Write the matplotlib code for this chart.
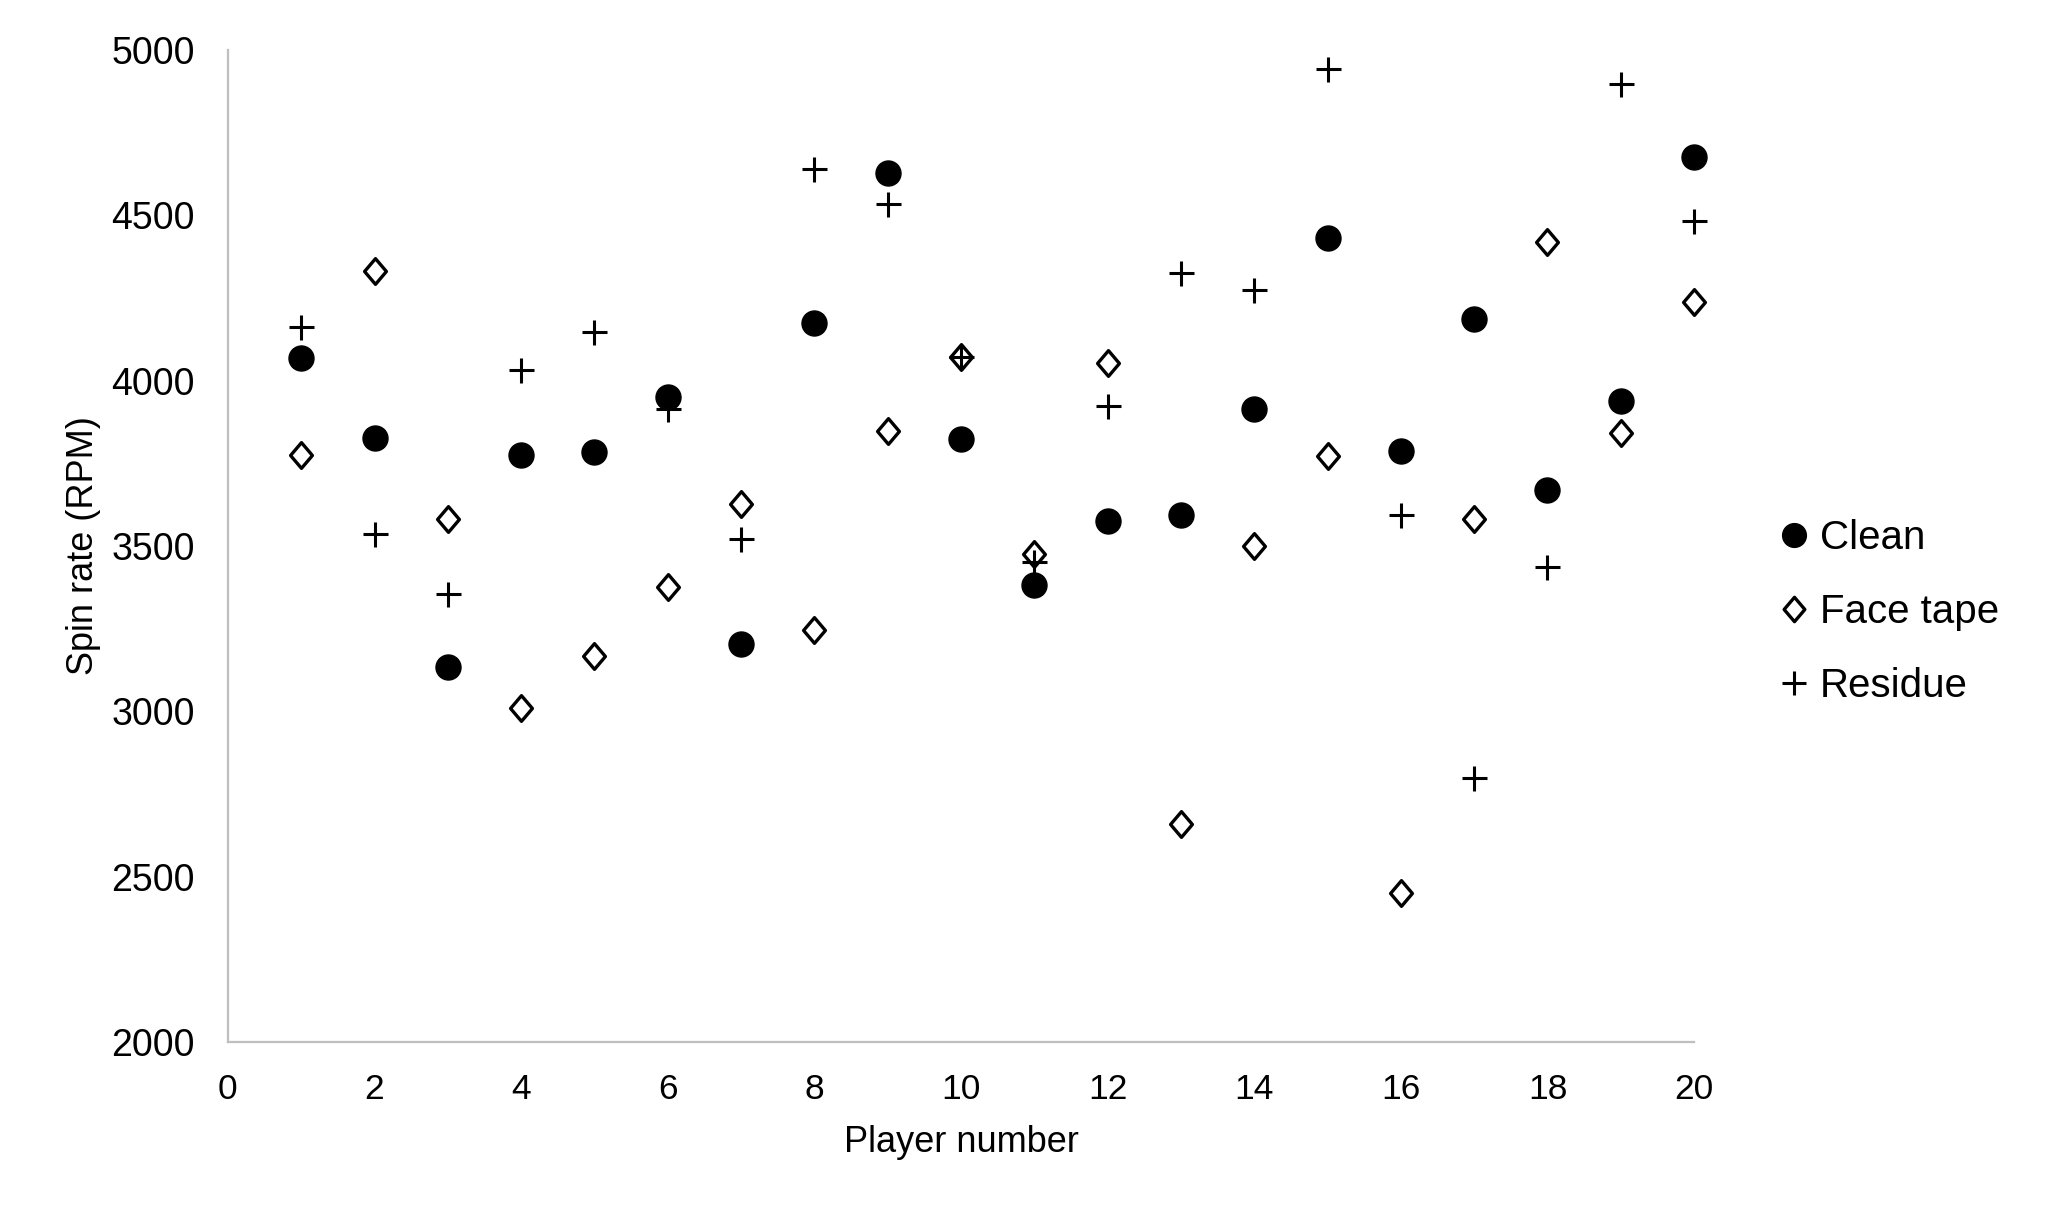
import matplotlib
matplotlib.use("Agg")
import matplotlib.pyplot as plt
from matplotlib.path import Path

plt.rcParams['font.family'] = ['Liberation Sans', 'DejaVu Sans']

players = list(range(1, 21))
clean = [4068, 3828, 3133, 3776, 3784, 3950, 3204, 4175, 4629, 3824,
         3381, 3575, 3595, 3914, 4431, 3788, 4187, 3670, 3938, 4676]
face_tape = [3776, 4333, 3583, 3010, 3168, 3377, 3626, 3247, 3847, 4072,
             3476, 4053, 2659, 3500, 3772, 2450, 3583, 4420, 3843, 4238]
residue = [4163, 3535, 3354, 4033, 4147, 3914, 3520, 4641, 4534, 4072,
           3452, 3922, 4325, 4274, 4941, 3595, 2797, 3437, 4897, 4483]

x_ticks = list(range(0, 21, 2))
y_ticks = list(range(2000, 5001, 500))

fig = plt.figure(figsize=(20.46, 12.19), dpi=100)
ax = fig.add_axes([0.1114, 0.1452, 0.828 - 0.1114, 0.959 - 0.1452])

diamond = Path([(0, 1), (0.85, 0), (0, -1), (-0.85, 0), (0, 1)],
               [Path.MOVETO, Path.LINETO, Path.LINETO, Path.LINETO, Path.CLOSEPOLY])

ax.plot(players, clean, linestyle='none', marker='o', markersize=18,
        color='black', label='Clean', clip_on=False)
ax.plot(players, face_tape, linestyle='none', marker=diamond, markersize=18.5,
        markerfacecolor='white', markeredgecolor='black', markeredgewidth=2.4,
        label='Face tape', clip_on=False)
ax.plot(players, residue, linestyle='none', marker='+', markersize=18,
        color='black', markeredgewidth=2.2, label='Residue', clip_on=False)

ax.set_xlim(0, 20)
ax.set_ylim(2000, 5000)
ax.set_xticks(x_ticks)
ax.set_yticks(y_ticks)
ax.tick_params(axis='both', length=0, labelsize=25.5)
ax.tick_params(axis='y', labelsize=27, pad=24)
ax.tick_params(axis='x', pad=22)
for s in ['top', 'right']:
    ax.spines[s].set_visible(False)
for s in ['left', 'bottom']:
    ax.spines[s].set_color('#bfbfbf')
    ax.spines[s].set_linewidth(1.6)

ax.set_xlabel('Player number', fontsize=26, labelpad=14)
ax.set_ylabel('Spin rate (RPM)', fontsize=26, labelpad=7)

leg = fig.legend(loc='center left', bbox_to_anchor=(0.852, 0.498), frameon=False,
                 fontsize=29, handlelength=0.7, handletextpad=0.3,
                 labelspacing=0.9, markerscale=0.95)

fig.savefig('out.png', dpi=100, facecolor='white')
